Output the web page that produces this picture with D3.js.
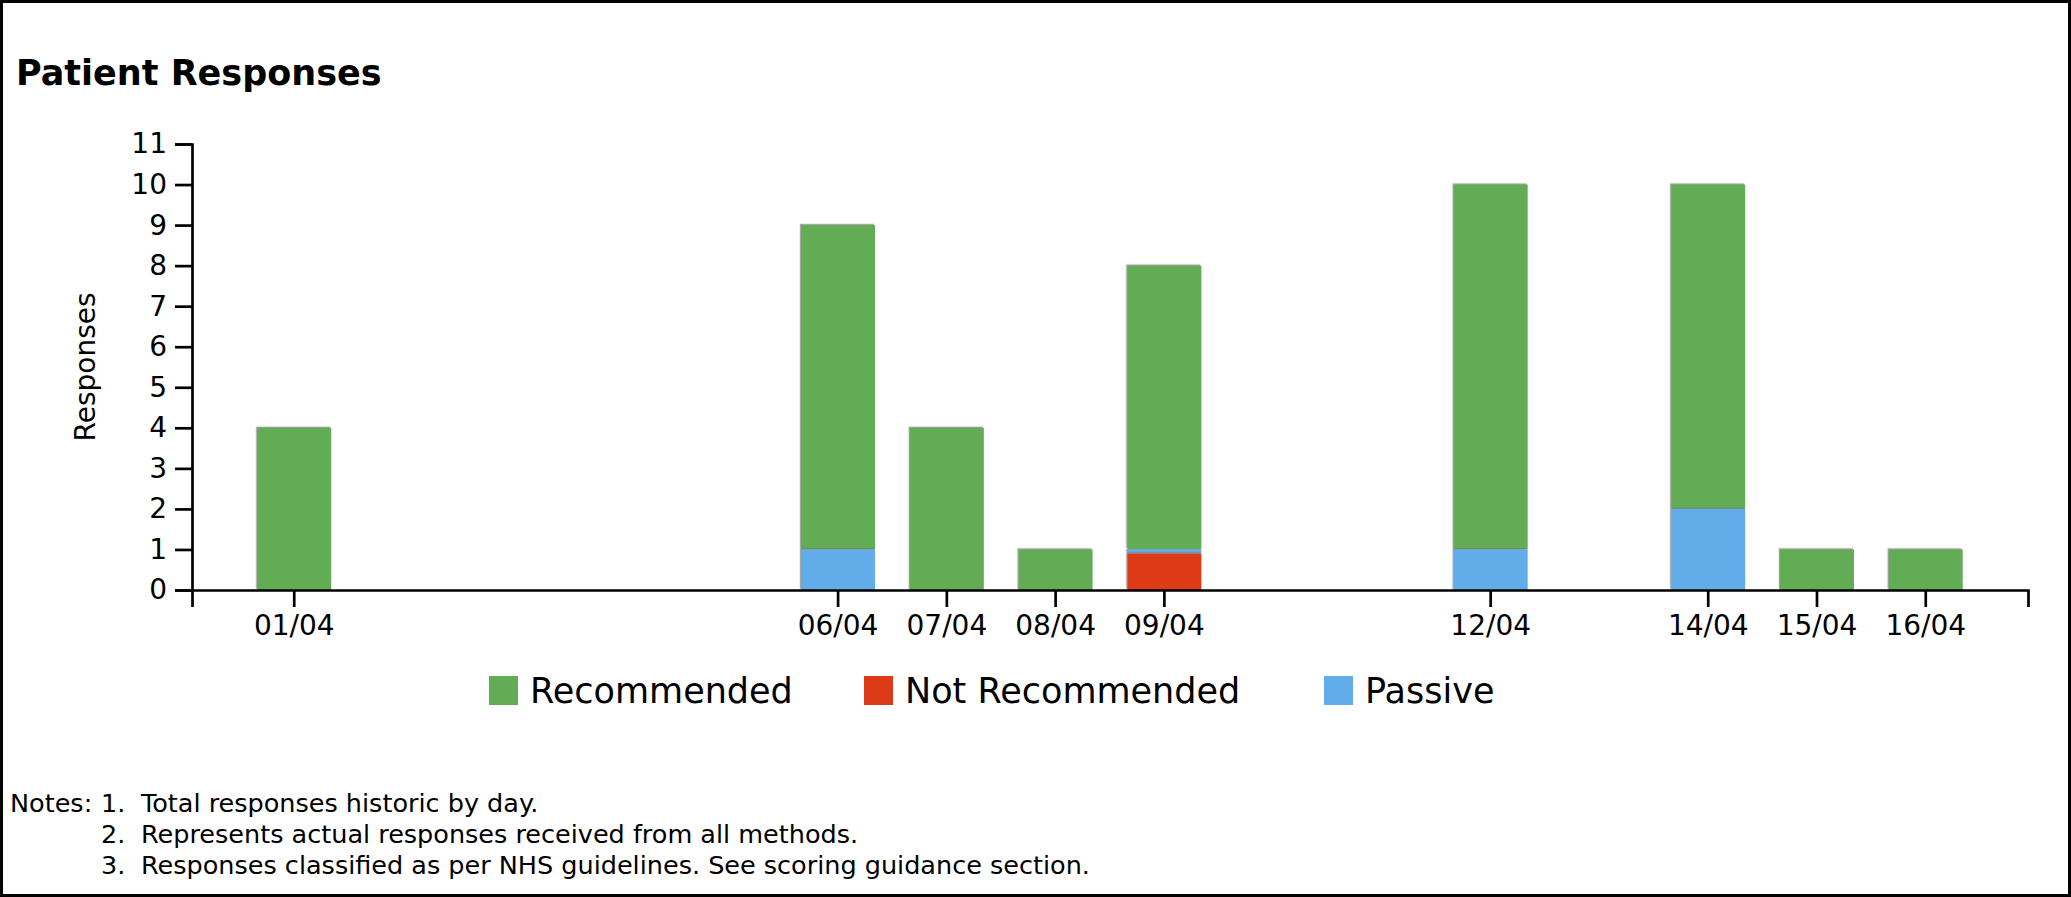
<!DOCTYPE html>
<html>
<head>
<meta charset="utf-8">
<script src="https://cdn.jsdelivr.net/npm/d3@7"></script>
<style>
  body { margin: 0; background: #fff; }
  svg { display: block; font-family: "DejaVu Sans", sans-serif; }
</style>
</head>
<body>
<div id="bar-chart"></div>
<script>
// chart data
const dates = ["01/04", "06/04", "07/04", "08/04", "09/04", "12/04", "14/04", "15/04", "16/04"];
const recommended = [4, 8, 4, 1, 7, 9, 8, 1, 1];
const notRecommended = [0, 0, 0, 0, 0.9, 0, 0, 0, 0];
const passive = [0, 1, 0, 0, 0.1, 1, 2, 0, 0];
const yTicks = [0, 1, 2, 3, 4, 5, 6, 7, 8, 9, 10, 11];
const series = ["Recommended", "Not Recommended", "Passive"];
const colors = ["#62ac55", "#dc3b18", "#63acea"];
const notes = [
  "Total responses historic by day.",
  "Represents actual responses received from all methods.",
  "Responses classified as per NHS guidelines. See scoring guidance section."
];

const W = 2071, H = 897;
const margin = {top: 144, right: 43, bottom: 307, left: 192},
    width = W - margin.left - margin.right,
    height = H - margin.top - margin.bottom;

const root = d3.select("#bar-chart")
  .append("svg")
    .attr("width", W)
    .attr("height", H);

// light shadow on the top/left edge of the bars
const filter = root.append("defs").append("filter")
    .attr("id", "shadow")
    .attr("x", "-5%").attr("y", "-5%").attr("width", "110%").attr("height", "110%");
filter.append("feDropShadow")
    .attr("dx", -1.2).attr("dy", -1.2)
    .attr("stdDeviation", 0.5)
    .attr("flood-color", "#777")
    .attr("flood-opacity", 0.7);

// outer frame
root.append("rect")
    .attr("x", 1.5).attr("y", 1.5)
    .attr("width", W - 3).attr("height", H - 3)
    .attr("fill", "none")
    .attr("stroke", "#000")
    .attr("stroke-width", 3);

root.append("text")
    .attr("x", 16)
    .attr("y", 85)
    .style("font-size", "35px")
    .style("font-weight", "bold")
    .text("Patient Responses");

const svg = root.append("g")
    .attr("transform", `translate(${margin.left},${margin.top})`);

// every day between first and last date gets a slot
const parse = d3.timeParse("%d/%m/%Y"), fmt = d3.timeFormat("%d/%m");
const first = parse(dates[0] + "/2021"), last = parse(dates[dates.length - 1] + "/2021");
const allDays = d3.timeDay.range(first, d3.timeDay.offset(last, 1)).map(fmt);

const x = d3.scaleBand()
    .domain(allDays)
    .range([0, width])
    .paddingInner(0.32)
    .paddingOuter(0.6);

const y = d3.scaleLinear()
    .domain([0, 11])
    .range([height, 0]);

const rows = dates.map((d, i) => ({
  date: d,
  "Recommended": recommended[i],
  "Not Recommended": notRecommended[i],
  "Passive": passive[i]
}));

const stackData = d3.stack()
    .keys(["Not Recommended", "Passive", "Recommended"])(rows);

const colorScale = d3.scaleOrdinal().domain(series).range(colors);

// draw the top segment first so the lower segments' shadow shows on it
svg.append("g")
  .selectAll("g")
  .data(stackData.slice().reverse())
  .join("g")
    .attr("fill", d => colorScale(d.key))
    .selectAll("rect")
    .data(d => d.filter(s => s[1] - s[0] > 0))
    .join("rect")
      .attr("x", d => x(d.data.date))
      .attr("y", d => y(d[1]))
      .attr("width", x.bandwidth())
      .attr("height", d => y(d[0]) - y(d[1]))
      .attr("filter", "url(#shadow)");

// axes
const xAxis = svg.append("g")
    .attr("transform", `translate(0,${height})`)
    .call(d3.axisBottom(x).tickValues(dates).tickSize(17).tickPadding(8));

const yAxis = svg.append("g")
    .call(d3.axisLeft(y).tickValues(yTicks).tickFormat(d3.format("d")).tickSize(17).tickPadding(8));

[xAxis, yAxis].forEach(a => {
  a.attr("font-family", "DejaVu Sans").attr("font-size", 28);
  a.selectAll("path, line").attr("stroke", "#000").attr("stroke-width", 2.7);
  a.selectAll("text").attr("fill", "#000");
});

// y label
root.append("text")
    .attr("transform", `translate(95,${margin.top + height / 2}) rotate(-90)`)
    .style("text-anchor", "middle")
    .style("font-size", "28px")
    .text("Responses");

// legend
const legendX = [489, 864, 1324];
const legend = root.append("g").selectAll("g")
  .data(series)
  .join("g")
    .attr("transform", (d, i) => `translate(${legendX[i]},676)`);
legend.append("rect")
    .attr("width", 29).attr("height", 29)
    .attr("fill", d => colorScale(d));
legend.append("text")
    .attr("x", 41).attr("y", 27)
    .style("font-size", "35px")
    .text(d => d);

// notes
const noteFont = 25.5;
root.append("text")
    .attr("x", 10).attr("y", 812)
    .style("font-size", noteFont + "px")
    .text("Notes:");
const noteRows = root.append("g").selectAll("g")
  .data(notes)
  .join("g")
    .attr("transform", (d, i) => `translate(101,${812 + i * 31})`);
noteRows.append("text")
    .style("font-size", noteFont + "px")
    .text((d, i) => (i + 1) + ".");
noteRows.append("text")
    .attr("x", 40)
    .style("font-size", noteFont + "px")
    .text(d => d);
</script>
</body>
</html>
